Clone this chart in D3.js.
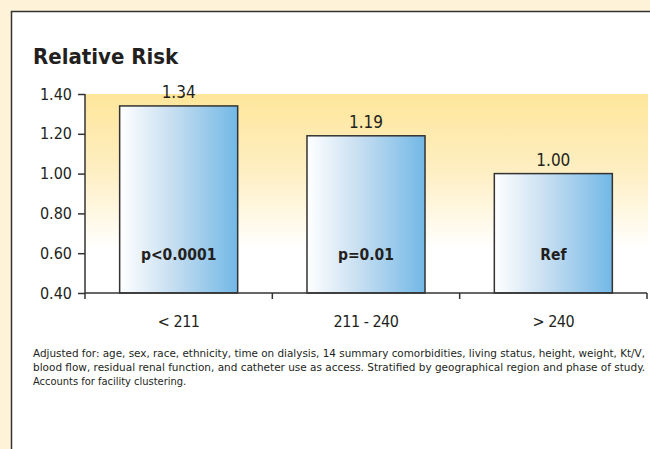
<!DOCTYPE html>
<html>
<head>
<meta charset="utf-8">
<script src="https://cdn.jsdelivr.net/npm/d3@7"></script>
<style>
  body { margin: 0; background: #fef3d8; }
  svg { display: block; }
  text { font-family: "DejaVu Sans Condensed", "DejaVu Sans", sans-serif; fill: #231f20; }
</style>
</head>
<body>
<script>
// data
var categories = ["< 211", "211 - 240", "> 240"];
var values = [1.34, 1.19, 1.00];
var valueLabels = ["1.34", "1.19", "1.00"];
var pLabels = ["p<0.0001", "p=0.01", "Ref"];
var yTicks = [0.40, 0.60, 0.80, 1.00, 1.20, 1.40];
var footnote = [
  "Adjusted for: age, sex, race, ethnicity, time on dialysis, 14 summary comorbidities, living status, height, weight, Kt/V,",
  "blood flow, residual renal function, and catheter use as access. Stratified by geographical region and phase of study.",
  "Accounts for facility clustering."
];

var W = 650, H = 449;
var svg = d3.select("body").append("svg")
    .attr("width", W)
    .attr("height", H);

// white panel with dark border
svg.append("rect")
    .attr("x", 11.5).attr("y", 11.5)
    .attr("width", W + 20).attr("height", H + 20)
    .attr("fill", "#fff")
    .attr("stroke", "#333").attr("stroke-width", 1.5);

var defs = svg.append("defs");
var bg = defs.append("linearGradient").attr("id", "bg")
    .attr("x1", 0).attr("y1", 0).attr("x2", 0).attr("y2", 1);
bg.append("stop").attr("offset", "0%").attr("stop-color", "#fee69a");
bg.append("stop").attr("offset", "40%").attr("stop-color", "#feefc4");
bg.append("stop").attr("offset", "78%").attr("stop-color", "#ffffff");
bg.append("stop").attr("offset", "100%").attr("stop-color", "#ffffff");

var barGrad = defs.append("linearGradient").attr("id", "bar")
    .attr("x1", 0).attr("y1", 0).attr("x2", 1).attr("y2", 0);
barGrad.append("stop").attr("offset", "0%").attr("stop-color", "#ffffff");
barGrad.append("stop").attr("offset", "45%").attr("stop-color", "#c6def1");
barGrad.append("stop").attr("offset", "100%").attr("stop-color", "#72b8e6");

var plotL = 85, plotR = 647, plotT = 94, plotB = 293;

var x = d3.scaleBand()
    .domain(categories)
    .range([plotL, plotR])
    .paddingInner(0.37)
    .paddingOuter(0.185);
var y = d3.scaleLinear()
    .domain([0.4, 1.4])
    .range([plotB, plotT]);

// title
svg.append("text")
    .attr("x", 33).attr("y", 64)
    .style("font-size", "22px")
    .style("font-weight", "bold")
    .text("Relative Risk");

// yellow backdrop
svg.append("rect")
    .attr("x", plotL).attr("y", y(1.4))
    .attr("width", 648 - plotL).attr("height", y(0.4) - y(1.4))
    .attr("fill", "url(#bg)");

// bars
svg.selectAll(".bar")
    .data(values)
    .enter().append("rect")
    .attr("class", "bar")
    .attr("x", function(d, i) { return x(categories[i]); })
    .attr("y", function(d) { return y(d); })
    .attr("width", x.bandwidth())
    .attr("height", function(d) { return y(0.4) - y(d); })
    .attr("fill", "url(#bar)")
    .attr("stroke", "#333")
    .attr("stroke-width", 1.5);

// value labels
svg.selectAll(".val")
    .data(values)
    .enter().append("text")
    .attr("class", "val")
    .attr("x", function(d, i) { return x(categories[i]) + x.bandwidth() / 2; })
    .attr("y", function(d) { return y(d) - 8; })
    .attr("text-anchor", "middle")
    .style("font-size", "17px")
    .text(function(d, i) { return valueLabels[i]; });

// p labels
svg.selectAll(".p")
    .data(pLabels)
    .enter().append("text")
    .attr("class", "p")
    .attr("x", function(d, i) { return x(categories[i]) + x.bandwidth() / 2; })
    .attr("y", 260)
    .attr("text-anchor", "middle")
    .style("font-size", "15.5px")
    .style("font-weight", "bold")
    .text(function(d) { return d; });

// y axis
var yAxis = svg.append("g")
    .attr("transform", "translate(" + plotL + ",0)")
    .call(d3.axisLeft(y).tickValues(yTicks).tickFormat(d3.format(".2f")).tickSize(7).tickPadding(6));
yAxis.select(".domain").attr("stroke", "#333").attr("stroke-width", 1.5).attr("d", "M0," + plotB + "V" + plotT);
yAxis.selectAll(".tick line").attr("stroke", "#333").attr("stroke-width", 1.5);
yAxis.selectAll(".tick text")
    .style("font-size", "16px")
    .style("font-family", "'DejaVu Sans Condensed', sans-serif")
    .attr("fill", "#231f20");

// x axis with ticks at band edges
svg.append("line")
    .attr("x1", plotL).attr("x2", plotR)
    .attr("y1", plotB).attr("y2", plotB)
    .attr("stroke", "#333").attr("stroke-width", 1.5);
var edges = [plotL].concat(categories.map(function(c) { return x(c) + x.bandwidth() + x.step() * x.paddingInner() / 2; }));
edges[edges.length - 1] = plotR;
svg.selectAll(".xtick")
    .data(edges)
    .enter().append("line")
    .attr("x1", function(d) { return d; }).attr("x2", function(d) { return d; })
    .attr("y1", plotB).attr("y2", plotB + 6)
    .attr("stroke", "#333").attr("stroke-width", 1.5);

svg.selectAll(".xlab")
    .data(categories)
    .enter().append("text")
    .attr("x", function(d) { return x(d) + x.bandwidth() / 2; })
    .attr("y", 327)
    .attr("text-anchor", "middle")
    .style("font-size", "16px")
    .style("letter-spacing", "-0.5px")
    .text(function(d) { return d; });

// footnote
svg.selectAll(".foot")
    .data(footnote)
    .enter().append("text")
    .attr("x", 33)
    .attr("y", function(d, i) { return 357 + i * 14; })
    .style("font-size", "11px")
    .text(function(d) { return d; })
    .each(function(d, i) {
      if (i < 2) d3.select(this).attr("textLength", 612).attr("lengthAdjust", "spacingAndGlyphs");
    });
</script>
</body>
</html>
